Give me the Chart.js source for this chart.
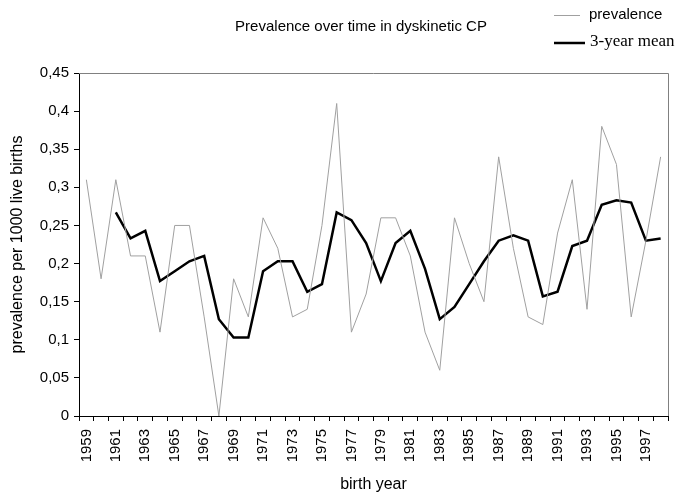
<!DOCTYPE html>
<html>
<head>
<meta charset="utf-8">
<script src="https://cdn.jsdelivr.net/npm/chart.js@4"></script>
<style>
    html, body { margin: 0; padding: 0; background: #fff; }
    canvas { display: block; }
</style>
</head>
<body>
<canvas id="cpChart" width="678" height="496"></canvas>
<script>
// birth years and values
const years = [1959, 1960, 1961, 1962, 1963, 1964, 1965, 1966, 1967, 1968,
    1969, 1970, 1971, 1972, 1973, 1974, 1975, 1976, 1977, 1978,
    1979, 1980, 1981, 1982, 1983, 1984, 1985, 1986, 1987, 1988,
    1989, 1990, 1991, 1992, 1993, 1994, 1995, 1996, 1997, 1998];

const prevalence = [0.31, 0.18, 0.31, 0.21, 0.21, 0.11, 0.25, 0.25, 0.13, 0,
    0.18, 0.13, 0.26, 0.22, 0.13, 0.14, 0.25, 0.41, 0.11, 0.16,
    0.26, 0.26, 0.21, 0.11, 0.06, 0.26, 0.20, 0.15, 0.34, 0.22,
    0.13, 0.12, 0.24, 0.31, 0.14, 0.38, 0.33, 0.13, 0.23, 0.34];

const threeYearMean = [null, null, 0.267, 0.233, 0.243, 0.177, 0.19, 0.203, 0.21, 0.127,
    0.103, 0.103, 0.19, 0.203, 0.203, 0.163, 0.173, 0.267, 0.257, 0.227,
    0.177, 0.227, 0.243, 0.193, 0.127, 0.143, 0.173, 0.203, 0.23, 0.237,
    0.23, 0.157, 0.163, 0.223, 0.23, 0.277, 0.283, 0.28, 0.23, 0.233];

const titleText = "Prevalence over time in dyskinetic CP";
const xTitle = "birth year";
const yTitle = "prevalence per 1000 live births";
const seriesNames = ["prevalence", "3-year mean"];

const greyLine = "#a0a0a0";
const sans = "'Liberation Sans', Arial, sans-serif";

Chart.defaults.font.family = sans;
Chart.defaults.font.size = 15;
Chart.defaults.color = "#000";

// title, legend, axis titles and the grey frame are drawn here
const decorations = {
    id: "decorations",
    afterDraw(chart) {
        const ctx = chart.ctx;
        const area = chart.chartArea;
        ctx.save();

        ctx.strokeStyle = "#808080";
        ctx.lineWidth = 1;
        ctx.beginPath();
        ctx.moveTo(area.left, area.top + 0.5);
        ctx.lineTo(area.right + 0.5, area.top + 0.5);
        ctx.lineTo(area.right + 0.5, area.bottom);
        ctx.stroke();

        ctx.fillStyle = "#000";
        ctx.textBaseline = "middle";
        ctx.textAlign = "center";
        ctx.font = "15px " + sans;
        ctx.fillText(titleText, 361, 27);

        ctx.font = "16px " + sans;
        ctx.fillText(xTitle, (area.left + area.right) / 2, 485);

        ctx.save();
        ctx.translate(18, (area.top + area.bottom) / 2);
        ctx.rotate(-Math.PI / 2);
        ctx.fillText(yTitle, 0, 0);
        ctx.restore();

        // legend
        ctx.textAlign = "left";
        ctx.strokeStyle = greyLine;
        ctx.lineWidth = 1;
        ctx.beginPath();
        ctx.moveTo(554, 15.5);
        ctx.lineTo(580, 15.5);
        ctx.stroke();
        ctx.font = "15px " + sans;
        ctx.fillText(seriesNames[0], 589, 15);

        ctx.strokeStyle = "#000";
        ctx.lineWidth = 2.5;
        ctx.beginPath();
        ctx.moveTo(554, 43);
        ctx.lineTo(585, 43);
        ctx.stroke();
        ctx.font = "17px 'Liberation Serif', 'Times New Roman', serif";
        ctx.fillText(seriesNames[1], 590, 42);

        ctx.restore();
    }
};

new Chart(document.getElementById("cpChart"), {
    type: "line",
    data: {
        labels: years,
        datasets: [{
            label: seriesNames[0],
            data: prevalence,
            borderColor: greyLine,
            borderWidth: 1,
            pointRadius: 0,
            tension: 0
        }, {
            label: seriesNames[1],
            data: threeYearMean,
            borderColor: "#000",
            borderWidth: 2.5,
            pointRadius: 0,
            tension: 0
        }]
    },
    options: {
        responsive: false,
        animation: false,
        layout: { padding: { top: 73, right: 0, left: 0, bottom: 0 } },
        plugins: {
            legend: { display: false },
            title: { display: false },
            tooltip: { enabled: false }
        },
        scales: {
            x: {
                type: "category",
                offset: true,
                grid: {
                    offset: true,
                    drawOnChartArea: false,
                    tickLength: 5,
                    color: "#000"
                },
                border: { color: "#000" },
                ticks: {
                    autoSkip: false,
                    maxRotation: 90,
                    minRotation: 90,
                    padding: 8,
                    callback: function (val, i) {
                        return i % 2 === 0 ? this.getLabelForValue(val) : "";
                    }
                },
                afterFit: function (scale) {
                    scale.height = 80;
                    scale.paddingLeft = 0;
                    scale.paddingRight = 10;
                }
            },
            y: {
                min: 0,
                max: 0.45,
                grid: {
                    drawOnChartArea: false,
                    tickLength: 5,
                    color: "#000"
                },
                border: { color: "#000" },
                ticks: {
                    stepSize: 0.05,
                    padding: 5,
                    callback: function (v) {
                        return String(parseFloat(v.toFixed(2))).replace(".", ",");
                    }
                },
                afterFit: function (scale) { scale.width = 79; }
            }
        }
    },
    plugins: [decorations]
});
</script>
</body>
</html>
